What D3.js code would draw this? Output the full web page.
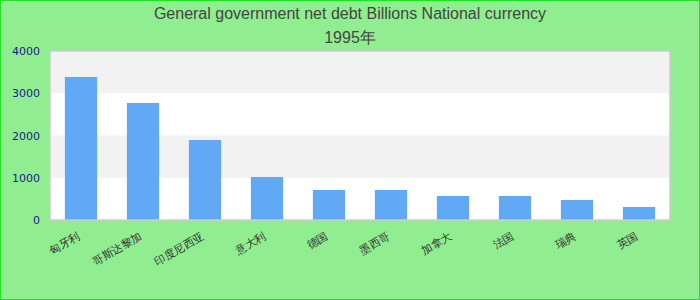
<!DOCTYPE html>
<html>
<head>
<meta charset="utf-8">
<script src="https://cdn.jsdelivr.net/npm/d3@7"></script>
<style>
  html, body { margin: 0; padding: 0; background: #90ee90; }
  svg { display: block; }
</style>
</head>
<body>
<svg id="chart" width="700" height="300"></svg>
<script>
const titleLines = ["General government net debt Billions National currency", "1995年"];
const categories = ["匈牙利", "哥斯达黎加", "印度尼西亚", "意大利", "德国", "墨西哥", "加拿大", "法国", "瑞典", "英国"];
const values = [3385, 2770, 1893, 1018, 710, 710, 568, 568, 473, 308];
const yTicks = [0, 1000, 2000, 3000, 4000];

const W = 700, H = 300;
const m = { left: 50, right: 30, top: 51, bottom: 80 };
const svg = d3.select("#chart");

svg.append("rect").attr("x", 0.5).attr("y", 0.5).attr("width", W - 1).attr("height", H - 1)
  .attr("fill", "#90ee90").attr("stroke", "#22e022").attr("stroke-width", 1);

const x = d3.scaleBand().domain(categories).range([m.left, W - m.right]).paddingInner(0.48).paddingOuter(0.24);
const y = d3.scaleLinear().domain([0, 4000]).range([H - m.bottom, m.top]);

// plot background
svg.append("rect").attr("x", m.left).attr("y", m.top)
  .attr("width", W - m.right - m.left).attr("height", H - m.bottom - m.top).attr("fill", "#ffffff");

// alternating bands
const bands = yTicks.slice(0, -1).map((t, i) => ({ lo: t, hi: yTicks[i + 1], i }));
svg.append("g").selectAll("rect").data(bands.filter(b => b.i % 2 === 1)).join("rect")
  .attr("x", m.left).attr("width", W - m.right - m.left)
  .attr("y", d => y(d.hi)).attr("height", d => y(d.lo) - y(d.hi))
  .attr("fill", "#f2f2f2");

// bars
svg.append("g").selectAll("rect").data(categories).join("rect")
  .attr("x", d => x(d)).attr("width", x.bandwidth())
  .attr("y", (d, i) => y(values[i])).attr("height", (d, i) => y(0) - y(values[i]))
  .attr("fill", "#62a9f5");

// plot border
svg.append("rect").attr("x", m.left).attr("y", m.top)
  .attr("width", W - m.right - m.left).attr("height", H - m.bottom - m.top)
  .attr("fill", "none").attr("stroke", "#cccccc").attr("stroke-width", 1.5);

// y axis
const yAxis = svg.append("g").attr("transform", `translate(${m.left - 10},0)`)
  .call(d3.axisLeft(y).tickValues(yTicks).tickSize(0).tickPadding(0).tickFormat(d3.format("d")));
yAxis.select(".domain").remove();
yAxis.selectAll("text").attr("fill", "#1a1a8c").style("font-family", "DejaVu Sans").style("font-size", "11px");

// x axis labels
const xAxis = svg.append("g").attr("transform", `translate(0,${H - m.bottom})`)
  .call(d3.axisBottom(x).tickSize(0).tickPadding(0));
xAxis.select(".domain").remove();
xAxis.selectAll("text")
  .attr("text-anchor", "end")
  .attr("dy", "0")
  .attr("transform", "translate(0,18) rotate(-30)")
  .attr("fill", "#333333")
  .style("font-family", "DejaVu Sans").style("font-size", "11px");

// title
svg.append("g").selectAll("text").data(titleLines).join("text")
  .attr("x", W / 2).attr("y", (d, i) => 19 + i * 24)
  .attr("text-anchor", "middle").attr("fill", "#444444")
  .style("font-family", "Liberation Sans, Arial, sans-serif").style("font-size", "16px")
  .text(d => d);
</script>
</body>
</html>
